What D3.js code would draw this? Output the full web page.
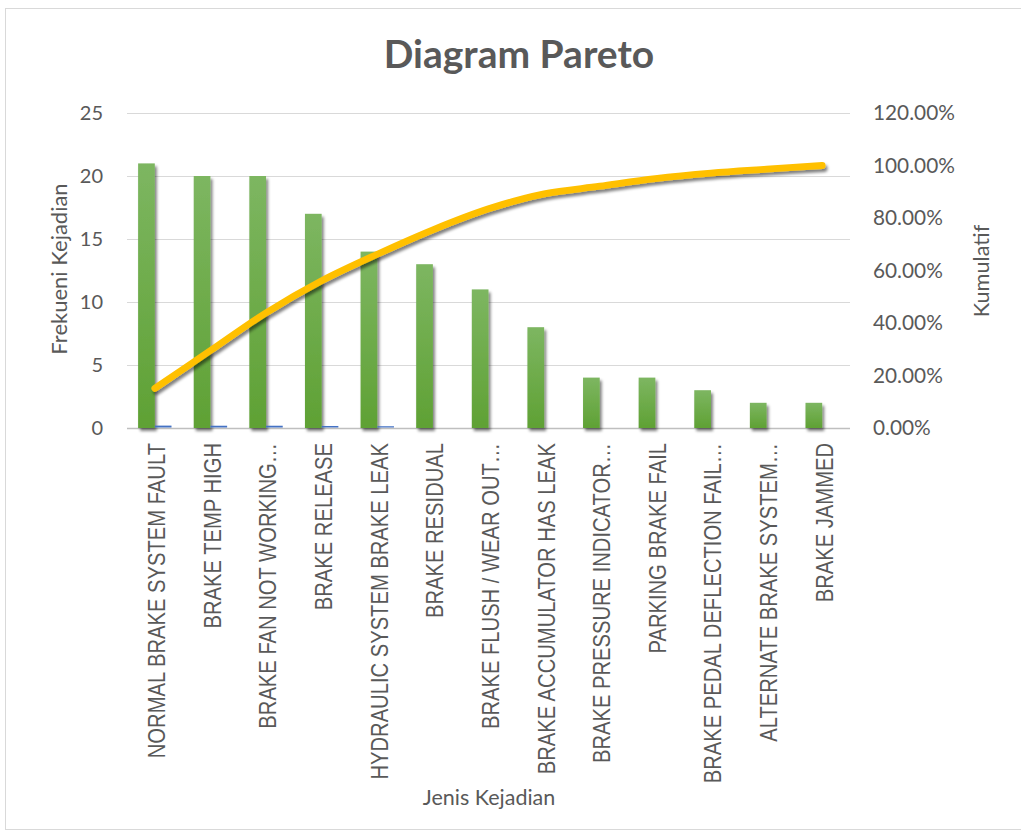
<!DOCTYPE html>
<html><head><meta charset="utf-8">
<script src="https://cdn.jsdelivr.net/npm/d3@7"></script>
<style>body{margin:0;background:#fff}svg{display:block}</style>
</head><body>
<svg id="c" width="1021" height="837"></svg>
<script>
const categories = ["NORMAL BRAKE SYSTEM FAULT","BRAKE TEMP HIGH","BRAKE FAN NOT WORKING…","BRAKE RELEASE","HYDRAULIC SYSTEM BRAKE LEAK","BRAKE RESIDUAL","BRAKE FLUSH / WEAR OUT…","BRAKE ACCUMULATOR HAS LEAK","BRAKE PRESSURE INDICATOR…","PARKING BRAKE FAIL","BRAKE PEDAL DEFLECTION FAIL…","ALTERNATE BRAKE SYSTEM…","BRAKE JAMMED"];
const frekuensi = [21,20,20,17,14,13,11,8,4,4,3,2,2];
const persen = [0.15,0.14,0.14,0.12,0.10,0,0,0,0,0,0,0,0];
const kumulatif = [0.151,0.295,0.439,0.561,0.662,0.755,0.835,0.892,0.921,0.950,0.971,0.986,1.000];
const leftTicks = [0,5,10,15,20,25];
const rightTicks = [0,0.2,0.4,0.6,0.8,1.0,1.2];

const svg = d3.select("#c");
const m = {l:127, r:850, t:113, b:428};
const txt = "#595959";
const font = "Lato, 'Open Sans', sans-serif";

svg.append("rect").attr("x",5.5).attr("y",8.5).attr("width",1030).attr("height",821)
  .attr("fill","#fff").attr("stroke","#D9D9D9").attr("stroke-width",1);

const defs = svg.append("defs");
const g1 = defs.append("linearGradient").attr("id","gb").attr("x1",0).attr("y1",0).attr("x2",0).attr("y2",1);
g1.append("stop").attr("offset","0%").attr("stop-color","#7DB661");
g1.append("stop").attr("offset","100%").attr("stop-color","#5FA134");
const f = defs.append("filter").attr("id","sh").attr("x","-30%").attr("y","-30%").attr("width","160%").attr("height","160%");
f.append("feGaussianBlur").attr("in","SourceAlpha").attr("stdDeviation",1.8).attr("result","b");
f.append("feOffset").attr("in","b").attr("dx",1.5).attr("dy",2.5).attr("result","o");
f.append("feComponentTransfer").attr("in","o").attr("result","o2").append("feFuncA").attr("type","linear").attr("slope",0.5);
const fm = f.append("feMerge"); fm.append("feMergeNode").attr("in","o2"); fm.append("feMergeNode").attr("in","SourceGraphic");

const x0 = d3.scaleBand().domain(categories).range([m.l,m.r]);
const y = d3.scaleLinear().domain([0,25]).range([m.b,m.t]);
const y2 = d3.scaleLinear().domain([0,1.2]).range([m.b,m.t]);
const bw = 16.7;
const cx = d => x0(d)+x0.bandwidth()/2;

svg.append("g").selectAll("line").data(leftTicks).join("line")
  .attr("x1",m.l).attr("x2",m.r).attr("y1",d=>y(d)+0.5).attr("y2",d=>y(d)+0.5)
  .attr("stroke",d=>d===0?"#BFBFBF":"#D9D9D9").attr("stroke-width",d=>d===0?1.5:1.2);

svg.append("g").attr("filter","url(#sh)").selectAll("rect").data(frekuensi).join("rect")
  .attr("x",(d,i)=>cx(categories[i])-bw)
  .attr("y",d=>y(d)).attr("width",bw).attr("height",d=>y(0)-y(d))
  .attr("fill","url(#gb)");
svg.append("g").selectAll("rect").data(persen).join("rect")
  .attr("x",(d,i)=>cx(categories[i]))
  .attr("y",d=>y(d)-0.5).attr("width",bw).attr("height",d=>d>0?Math.max(1,y(0)-y(d)):0)
  .attr("fill","#4472C4");

const line = d3.line().x((d,i)=>cx(categories[i])).y(d=>y2(d)).curve(d3.curveCatmullRom.alpha(0.5));
svg.append("path").datum(kumulatif).attr("d",line).attr("fill","none")
  .attr("stroke","#FFC000").attr("stroke-width",6.8).attr("stroke-linecap","round").attr("stroke-linejoin","round")
  .attr("filter","url(#sh)");

svg.append("g").selectAll("text").data(leftTicks).join("text")
  .attr("x",103).attr("y",d=>y(d)).attr("dy","0.36em").attr("text-anchor","end")
  .attr("font-family",font).attr("font-size",20).attr("fill",txt).text(d=>d);
svg.append("g").selectAll("text").data(rightTicks).join("text")
  .attr("x",873).attr("y",d=>y2(d)).attr("dy","0.36em").attr("text-anchor","start")
  .attr("font-family",font).attr("font-size",20.8).attr("fill",txt).text(d=>(d*100).toFixed(2)+"%");

svg.append("g").selectAll("text").data(categories).join("text")
  .attr("transform",d=>`translate(${cx(d)+2},443) scale(1.19,1) rotate(-90)`)
  .attr("dy","0.35em").attr("text-anchor","end")
  .attr("font-family","'Liberation Sans', Arial, sans-serif").attr("font-size",20.2).attr("fill",txt).text(d=>d);

svg.append("text").attr("transform","translate(59,269) rotate(-90)").attr("text-anchor","middle").attr("dy","0.35em")
  .attr("font-family",font).attr("font-size",22).attr("fill",txt).text("Frekueni Kejadian");
svg.append("text").attr("transform","translate(981,271) rotate(-90)").attr("text-anchor","middle").attr("dy","0.35em")
  .attr("font-family",font).attr("font-size",21.7).attr("fill",txt).text("Kumulatif");
svg.append("text").attr("x",489).attr("y",797).attr("text-anchor","middle").attr("dy","0.35em")
  .attr("font-family",font).attr("font-size",21.5).attr("fill",txt).text("Jenis Kejadian");

svg.append("text").attr("x",519).attr("y",68).attr("text-anchor","middle")
  .attr("font-family",font).attr("font-weight","bold").attr("font-size",39).attr("fill",txt).text("Diagram Pareto");
</script>
</body></html>
